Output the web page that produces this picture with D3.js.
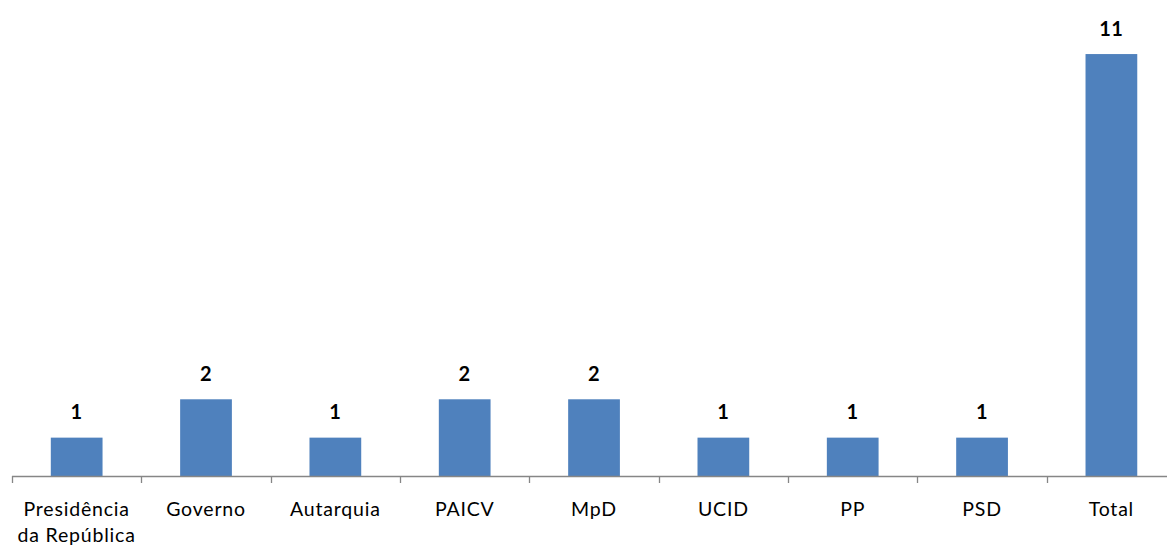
<!DOCTYPE html>
<html><head><meta charset="utf-8">
<script src="https://cdn.jsdelivr.net/npm/d3@7"></script>
<style>body{margin:0;background:#fff}svg{display:block}</style>
</head><body>
<script>
const categories = ["Presidência\nda República","Governo","Autarquia","PAICV","MpD","UCID","PP","PSD","Total"];
const values = [1,2,1,2,2,1,1,1,11];
const yDomain = [0,12];

const W=1167,H=545;
const svg=d3.select("body").append("svg").attr("width",W).attr("height",H);
const x=d3.scaleBand().domain(categories).range([12,12+9*129.34]).paddingInner(0).paddingOuter(0);
const y=d3.scaleLinear().domain(yDomain).range([476,15.7]);
const font="Lato, 'Open Sans', sans-serif";
const bw=x.bandwidth()*0.4;

svg.selectAll("rect.bar").data(values).join("rect").attr("class","bar")
 .attr("x",(d,i)=>x(categories[i])+x.bandwidth()/2-bw/2)
 .attr("width",bw)
 .attr("y",d=>y(d)).attr("height",d=>y(0)-y(d))
 .attr("fill","#4F81BD");

svg.selectAll("text.val").data(values).join("text").attr("class","val")
 .attr("x",(d,i)=>x(categories[i])+x.bandwidth()/2)
 .attr("y",d=>y(d)-18.5)
 .attr("text-anchor","middle").attr("font-family",font).attr("font-weight","bold")
 .attr("font-size",20).attr("letter-spacing","0.6px").attr("fill","#000").text(d=>d);

// axis
const ax=svg.append("g");
ax.append("line").attr("x1",12).attr("x2",W).attr("y1",476.5).attr("y2",476.5).attr("stroke","#868686").attr("stroke-width",1.3);
const ticks=d3.range(categories.length+1).map(i=>12+i*x.step());
ax.selectAll("line.t").data(ticks).join("line").attr("class","t")
 .attr("x1",d=>Math.round(d)+0.5).attr("x2",d=>Math.round(d)+0.5).attr("y1",476).attr("y2",483)
 .attr("stroke","#868686").attr("stroke-width",1.3);

categories.forEach(c=>{
  const t=svg.append("text").attr("text-anchor","middle").attr("font-family",font)
   .attr("font-size",19.5).attr("letter-spacing","0.8px").attr("fill","#000");
  c.split("\n").forEach((ln,j)=>{
    t.append("tspan").attr("x",x(c)+x.bandwidth()/2).attr("y",515.5+j*26).text(ln);
  });
});
</script>
</body></html>
